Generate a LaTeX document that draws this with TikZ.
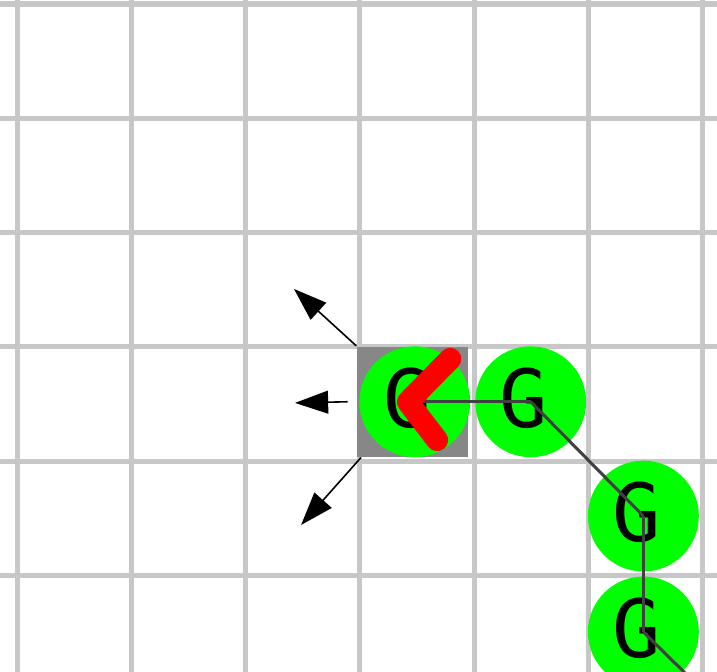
\documentclass[tikz,border=0pt]{standalone}
\usepackage{fontspec}
\newfontfamily\segfont{DejaVu Sans Mono}
\usetikzlibrary{arrows.meta,positioning}

\begin{document}
\begin{tikzpicture}[
  x=1cm,y=1cm,
  cellgrid/.style={draw=black!22,line width=1.25pt},
  headcell/.style={rectangle,fill=black!47,minimum width=0.97cm,minimum height=0.965cm,inner sep=0pt},
  seg/.style={circle,fill=green,minimum size=0.97cm,inner sep=0pt,text depth=0.07cm,
    font=\segfont\fontsize{20}{20}\selectfont,execute at end node={\hspace*{0.12cm}}},
  link/.style={draw=black!75,line width=0.75pt},
  move/.style={-{Triangle[length=0.29cm,width=0.2cm]},line width=0.4pt},
  facing/.style={draw=red,line width=5.5pt,line cap=round,line join=round}
]
\useasboundingbox (-0.149,0.035) rectangle (6.124,-5.844);
\clip (-0.149,0.035) rectangle (6.124,-5.844);
\draw[cellgrid] (-1,-7) grid (7,1);
\node[headcell] (head) at (3.46,-3.48) {};
\node[seg] (s1) at (3.48,-3.48) {G};
\node[seg,right=0.03cm of s1] (s2) {G};
\node[seg] (s3) at (5.48,-4.48) {G};
\node[seg,below=0.03cm of s3] (s4) {G};
\coordinate (tail) at (6.48,-6.48);
\draw[link] (s1.center) -- (s2.center);
\draw[link] (s2.center) -- (s3.center);
\draw[link] (s3.center) -- (s4.center);
\draw[link] (s4.center) -- (tail);
% heading marker
\draw[facing] (3.79,-3.105) -- (3.42,-3.482) -- (3.675,-3.815);
% possible moves
\coordinate (up) at (2.423,-2.493);
\coordinate (ahead) at (2.432,-3.49);
\coordinate (down) at (2.485,-4.558);
\draw[move] (head.north west) -- (up);
\draw[move] ([xshift=-0.075cm]head.west) -- (ahead);
\draw[move] ([xshift=0.04cm]head.south west) -- (down);
\end{tikzpicture}
\end{document}
